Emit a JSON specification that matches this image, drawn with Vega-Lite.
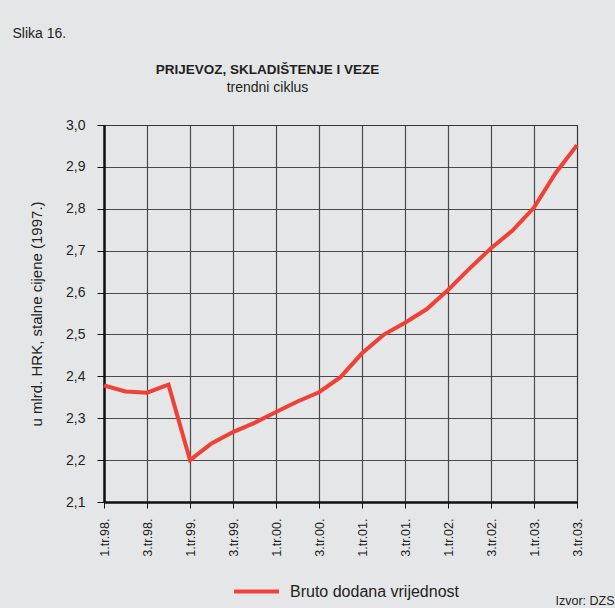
{
  "$schema": "https://vega.github.io/schema/vega-lite/v6.json",
  "autosize": {"type": "none"},
  "width": 473,
  "height": 377,
  "padding": {"left": 104, "top": 125, "right": 38, "bottom": 106},
  "background": "#e5e6e8",
  "title": {
    "text": "PRIJEVOZ, SKLADIŠTENJE I VEZE",
    "subtitle": "trendni ciklus",
    "anchor": "middle",
    "frame": "group",
    "dx": -73,
    "dy": 103,
    "offset": 34,
    "font": "Liberation Sans",
    "fontSize": 13.5,
    "fontWeight": "bold",
    "color": "#231f20",
    "subtitleFont": "Liberation Sans",
    "subtitleFontSize": 14,
    "subtitleColor": "#231f20",
    "subtitlePadding": 5
  },
  "config": {
    "view": {"stroke": "#111", "strokeWidth": 1, "fill": "#e5e6e8"},
    "font": "Liberation Sans",
    "axis": {
      "labelFont": "Liberation Sans",
      "titleFont": "Liberation Sans",
      "labelColor": "#231f20",
      "titleColor": "#231f20",
      "titleFontWeight": "normal",
      "domainColor": "#111",
      "domainWidth": 2.5,
      "tickColor": "#111",
      "tickWidth": 1,
      "gridColor": "#3a3a3a",
      "gridWidth": 1.2,
      "gridOpacity": 0.9
    }
  },
  "data": {
    "values": [
      {"q": "1.tr.98.", "v": 2.378, "s": "Bruto dodana vrijednost"},
      {"q": "2.tr.98.", "v": 2.364, "s": "Bruto dodana vrijednost"},
      {"q": "3.tr.98.", "v": 2.361, "s": "Bruto dodana vrijednost"},
      {"q": "4.tr.98.", "v": 2.380, "s": "Bruto dodana vrijednost"},
      {"q": "1.tr.99.", "v": 2.200, "s": "Bruto dodana vrijednost"},
      {"q": "2.tr.99.", "v": 2.240, "s": "Bruto dodana vrijednost"},
      {"q": "3.tr.99.", "v": 2.267, "s": "Bruto dodana vrijednost"},
      {"q": "4.tr.99.", "v": 2.289, "s": "Bruto dodana vrijednost"},
      {"q": "1.tr.00.", "v": 2.315, "s": "Bruto dodana vrijednost"},
      {"q": "2.tr.00.", "v": 2.340, "s": "Bruto dodana vrijednost"},
      {"q": "3.tr.00.", "v": 2.362, "s": "Bruto dodana vrijednost"},
      {"q": "4.tr.00.", "v": 2.398, "s": "Bruto dodana vrijednost"},
      {"q": "1.tr.01.", "v": 2.455, "s": "Bruto dodana vrijednost"},
      {"q": "2.tr.01.", "v": 2.499, "s": "Bruto dodana vrijednost"},
      {"q": "3.tr.01.", "v": 2.528, "s": "Bruto dodana vrijednost"},
      {"q": "4.tr.01.", "v": 2.560, "s": "Bruto dodana vrijednost"},
      {"q": "1.tr.02.", "v": 2.606, "s": "Bruto dodana vrijednost"},
      {"q": "2.tr.02.", "v": 2.657, "s": "Bruto dodana vrijednost"},
      {"q": "3.tr.02.", "v": 2.706, "s": "Bruto dodana vrijednost"},
      {"q": "4.tr.02.", "v": 2.748, "s": "Bruto dodana vrijednost"},
      {"q": "1.tr.03.", "v": 2.803, "s": "Bruto dodana vrijednost"},
      {"q": "2.tr.03.", "v": 2.885, "s": "Bruto dodana vrijednost"},
      {"q": "3.tr.03.", "v": 2.952, "s": "Bruto dodana vrijednost"}
    ]
  },
  "layer": [
    {
      "mark": {"type": "line", "strokeWidth": 4, "strokeJoin": "miter"},
      "encoding": {
        "x": {
          "field": "q",
          "type": "ordinal",
          "sort": null,
          "scale": {"type": "point", "padding": 0},
          "axis": {
            "values": ["1.tr.98.", "3.tr.98.", "1.tr.99.", "3.tr.99.", "1.tr.00.", "3.tr.00.", "1.tr.01.", "3.tr.01.", "1.tr.02.", "3.tr.02.", "1.tr.03.", "3.tr.03."],
            "labelAngle": -90,
            "labelFontSize": 12.5,
            "tickSize": 6,
            "labelPadding": 10,
            "grid": true,
            "title": "Izvor: DZS",
            "titleFontSize": 12.5,
            "titleAnchor": null,
            "titleAlign": "right",
            "titleBaseline": "alphabetic",
            "titleX": 510,
            "titleY": 102
          }
        },
        "y": {
          "field": "v",
          "type": "quantitative",
          "scale": {"domain": [2.1, 3.0], "nice": false, "zero": false},
          "axis": {
            "values": [2.1, 2.2, 2.3, 2.4, 2.5, 2.6, 2.7, 2.8, 2.9, 3.0],
            "labelExpr": "replace(format(datum.value, '.1f'), '.', ',')",
            "labelFontSize": 14,
            "tickSize": 7,
            "labelPadding": 12,
            "grid": true,
            "title": "u mlrd. HRK, stalne cijene (1997.)",
            "titleFontSize": 15,
            "titleAngle": -90,
            "titleBaseline": "middle",
            "titleAlign": "center",
            "titleX": -68,
            "titleY": 188.5
          }
        },
        "color": {
          "field": "s",
          "type": "nominal",
          "scale": {"range": ["#ef4136"]},
          "legend": {
            "title": null,
            "orient": "none",
            "legendX": 128,
            "legendY": 442,
            "symbolType": "stroke",
            "symbolStrokeWidth": 4,
            "symbolSize": 2025,
            "labelFontSize": 16,
            "labelLimit": 400,
            "labelFont": "Liberation Sans",
            "labelColor": "#231f20",
            "labelOffset": 9
          }
        }
      }
    },
    {
      "mark": {"type": "line", "opacity": 0},
      "encoding": {
        "x": {
          "field": "q",
          "type": "ordinal",
          "sort": null,
          "scale": {"type": "point", "padding": 0},
          "axis": {
            "orient": "top",
            "labels": false,
            "ticks": false,
            "domain": false,
            "grid": false,
            "title": "Slika 16.",
            "titleFontSize": 14,
            "titleAlign": "left",
            "titleBaseline": "alphabetic",
            "titleX": -92,
            "titleY": -88
          }
        },
        "y": {"field": "v", "type": "quantitative"}
      }
    }
  ],
  "resolve": {"axis": {"x": "independent"}}
}
